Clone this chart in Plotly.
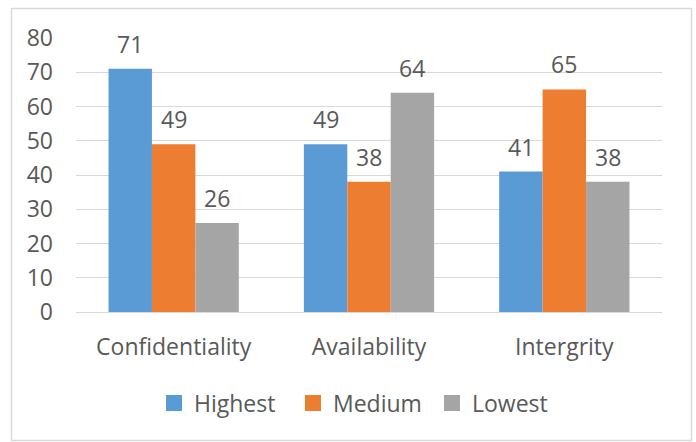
import plotly.graph_objects as go

categories = ["Confidentiality", "Availability", "Intergrity"]
highest = [71, 49, 41]
medium = [49, 38, 65]
lowest = [26, 64, 38]
series_names = ["Highest", "Medium", "Lowest"]
y_ticks = [0, 10, 20, 30, 40, 50, 60, 70, 80]

colors = ["#5B9BD5", "#ED7D31", "#A5A5A5"]
text_color = "#595959"
font_family = "'Open Sans', Lato, sans-serif"
fs = 23

W, H = 696, 442
L, R, T, B = 76, 34, 38, 130  # plot area margins in pixels
pw, ph = W - L - R, H - T - B
bargap = 0.333
n_series = 3
bar_px = pw / len(categories) * (1 - bargap) / n_series

fig = go.Figure()
for i, (name, vals, col) in enumerate(zip(series_names, [highest, medium, lowest], colors)):
    fig.add_trace(go.Bar(
        name=name, x=categories, y=vals, showlegend=False,
        marker=dict(color=col, line=dict(width=0)),
    ))
    # legend entry with a larger square swatch
    fig.add_trace(go.Scatter(
        name=name, x=[None], y=[None], mode="markers",
        marker=dict(symbol="square", size=16, color=col),
    ))
    # value labels sitting above each bar
    offset = (i - (n_series - 1) / 2) * bar_px
    for cat, v in zip(categories, vals):
        fig.add_annotation(
            x=cat, y=v, text=str(v), showarrow=False,
            xshift=offset, yanchor="bottom", yshift=7,
            font=dict(size=fs, color=text_color, family=font_family),
        )

# chart outline, given in pixels and converted to paper units
bx0, bx1, by0, by1 = 11.5, 691.5, 8.5, 440.5
fig.add_shape(
    type="rect", xref="paper", yref="paper", layer="below",
    x0=(bx0 - L) / pw, x1=(bx1 - L) / pw,
    y0=(H - B - by1) / ph, y1=(H - B - by0) / ph,
    line=dict(color="#D9D9D9", width=1.5), fillcolor="rgba(0,0,0,0)",
)

fig.update_layout(
    width=W, height=H,
    margin=dict(l=L, r=R, t=T, b=B, autoexpand=False),
    paper_bgcolor="white", plot_bgcolor="white",
    barmode="group", bargap=bargap, bargroupgap=0,
    font=dict(family=font_family, size=fs, color=text_color),
    legend=dict(
        orientation="h", x=(154 - L) / pw, xanchor="left",
        y=(H - B - 403) / ph, yanchor="middle",
        font=dict(size=fs, color=text_color), itemclick=False,
        itemwidth=30, entrywidth=94, entrywidthmode="pixels",
        tracegroupgap=0, bgcolor="rgba(0,0,0,0)",
    ),
    showlegend=True,
)
fig.update_xaxes(
    showgrid=False, showline=False, ticks="", ticklabelstandoff=19,
    tickfont=dict(size=fs, color=text_color),
)
fig.update_yaxes(
    range=[0, 80], tickvals=y_ticks, showgrid=True, gridcolor="#D9D9D9",
    gridwidth=1, zeroline=True, zerolinecolor="#D9D9D9", zerolinewidth=1,
    showline=False, ticks="", ticklabelstandoff=22,
    tickfont=dict(size=fs, color=text_color),
)

fig.write_html("out.html")
